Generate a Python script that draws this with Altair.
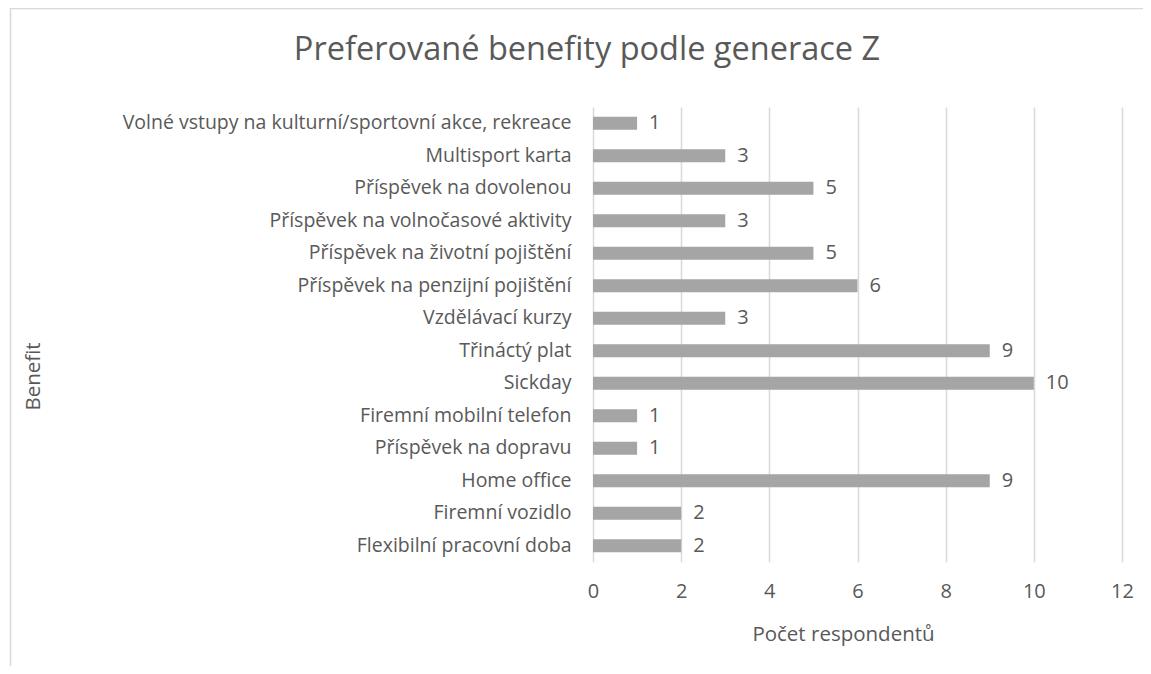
import altair as alt
import pandas as pd

benefits = [
    "Volné vstupy na kulturní/sportovní akce, rekreace",
    "Multisport karta",
    "Příspěvek na dovolenou",
    "Příspěvek na volnočasové aktivity",
    "Příspěvek na životní pojištění",
    "Příspěvek na penzijní pojištění",
    "Vzdělávací kurzy",
    "Třináctý plat",
    "Sickday",
    "Firemní mobilní telefon",
    "Příspěvek na dopravu",
    "Home office",
    "Firemní vozidlo",
    "Flexibilní pracovní doba",
]
counts = [1, 3, 5, 3, 5, 6, 3, 9, 10, 1, 1, 9, 2, 2]
x_ticks = [0, 2, 4, 6, 8, 10, 12]
title_text = ["Preferované benefity podle generace Z"]

df = pd.DataFrame({"Benefit": benefits, "Count": counts})

FONT = "Open Sans"
TXT = "#595959"
W, H = 529, 455
PAD_L, PAD_T = 585, 99

base = alt.Chart(df)

y_enc = alt.Y(
    "Benefit:N",
    sort=benefits,
    scale=alt.Scale(paddingInner=0.6, paddingOuter=0.3),
    axis=alt.Axis(
        title="Benefit",
        titleAngle=270,
        titleX=-560,
        titleY=269,
        titleBaseline="middle",
        titleFont=FONT,
        titleFontSize=20.5,
        titleFontWeight="normal",
        titleColor=TXT,
        labelFont=FONT,
        labelFontSize=19.5,
        labelColor=TXT,
        labelPadding=22,
        labelLimit=700,
        ticks=False,
        domain=False,
    ),
)

x_enc = alt.X(
    "Count:Q",
    scale=alt.Scale(domain=[0, 12], nice=False),
    axis=alt.Axis(
        title="Počet respondentů",
        titleX=250,
        titleY=72,
        titleBaseline="middle",
        titleFont=FONT,
        titleFontSize=20.5,
        titleFontWeight="normal",
        titleColor=TXT,
        values=x_ticks,
        labelFont=FONT,
        labelFontSize=20,
        labelColor=TXT,
        labelPadding=19,
        labelFlush=False,
        ticks=False,
        domain=False,
        grid=True,
        gridColor="#d9d9d9",
        gridWidth=1.5,
    ),
)

border = alt.Chart(pd.DataFrame({"k": [0]})).mark_rect(
    filled=False, stroke="#d9d9d9", strokeWidth=1.5
).encode(
    x=alt.value(-PAD_L + 2.5),
    x2=alt.value(W + 100),
    y=alt.value(-PAD_T + 0.5),
    y2=alt.value(H + 300),
)

title = alt.Chart(pd.DataFrame({"t": title_text})).mark_text(
    align="center", baseline="middle", font=FONT, fontSize=32.5, color=TXT
).encode(text="t:N", x=alt.value(-6), y=alt.value(-57))

bars = base.mark_bar(color="#a5a5a5").encode(x=x_enc, y=y_enc)

labels = base.mark_text(
    align="left", baseline="middle", dx=12, font=FONT, fontSize=20, color=TXT
).encode(x="Count:Q", y=alt.Y("Benefit:N", sort=benefits), text="Count:Q")

chart = alt.layer(border, title, bars, labels).properties(
    width=W,
    height=H,
    autosize=alt.AutoSizeParams(type="none"),
    padding={"left": PAD_L, "top": PAD_T, "right": 1135 - PAD_L - W, "bottom": 658 - PAD_T - H},
).configure_view(stroke=None)

chart.save("out.html", embed_options={"renderer": "svg", "actions": False})
